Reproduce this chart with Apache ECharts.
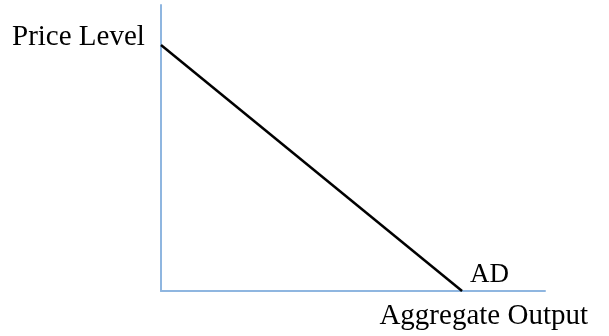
<!DOCTYPE html>
<html lang="en">
<head>
  <meta charset="UTF-8">
  <script src="https://cdn.jsdelivr.net/npm/echarts@6/dist/echarts.min.js"></script>
  <title>AD</title>
</head>
<style>
  html, body { margin: 0; padding: 0; background: #fff; }
  #chart { width: 609px; height: 336px; }
</style>
<body>
  <div id="chart"></div>
</body>
<script>
  // AD curve: output vs price level (axis units 0-100)
  var outputs = [0, 78.4];
  var prices = [86, 0];
  var curveName = 'AD';
  var yTitle = 'Price Level';
  var xTitle = 'Aggregate Output';

  var axisColor = '#8fb6e0';
  var font = '"Liberation Serif", "Times New Roman", serif';

  var chart = echarts.init(document.getElementById('chart'));
  chart.setOption({
    animation: false,
    grid: { left: 161, top: 5, right: 64, bottom: 45 },
    xAxis: {
      type: 'value', min: 0, max: 100,
      axisLine: { show: true, onZero: false, lineStyle: { color: axisColor, width: 2 } },
      axisTick: { show: false }, axisLabel: { show: false }, splitLine: { show: false }
    },
    yAxis: {
      type: 'value', min: 0, max: 100,
      axisLine: { show: true, lineStyle: { color: axisColor, width: 2 } },
      axisTick: { show: false }, axisLabel: { show: false }, splitLine: { show: false }
    },
    series: [{
      type: 'line',
      name: curveName,
      data: outputs.map((x, i) => [x, prices[i]]),
      symbol: 'none',
      lineStyle: { color: '#000', width: 2.5 },
      endLabel: {
        show: true, formatter: curveName, color: '#000',
        fontFamily: font, fontSize: 27, offset: [0, -16]
      }
    }],
    graphic: [
      { type: 'text', left: 12, top: 23, style: { text: yTitle, font: '29px ' + font, fill: '#000' } },
      { type: 'text', right: 21, top: 302, style: { text: xTitle, font: '29px ' + font, fill: '#000' } }
    ]
  });
</script>
</html>
